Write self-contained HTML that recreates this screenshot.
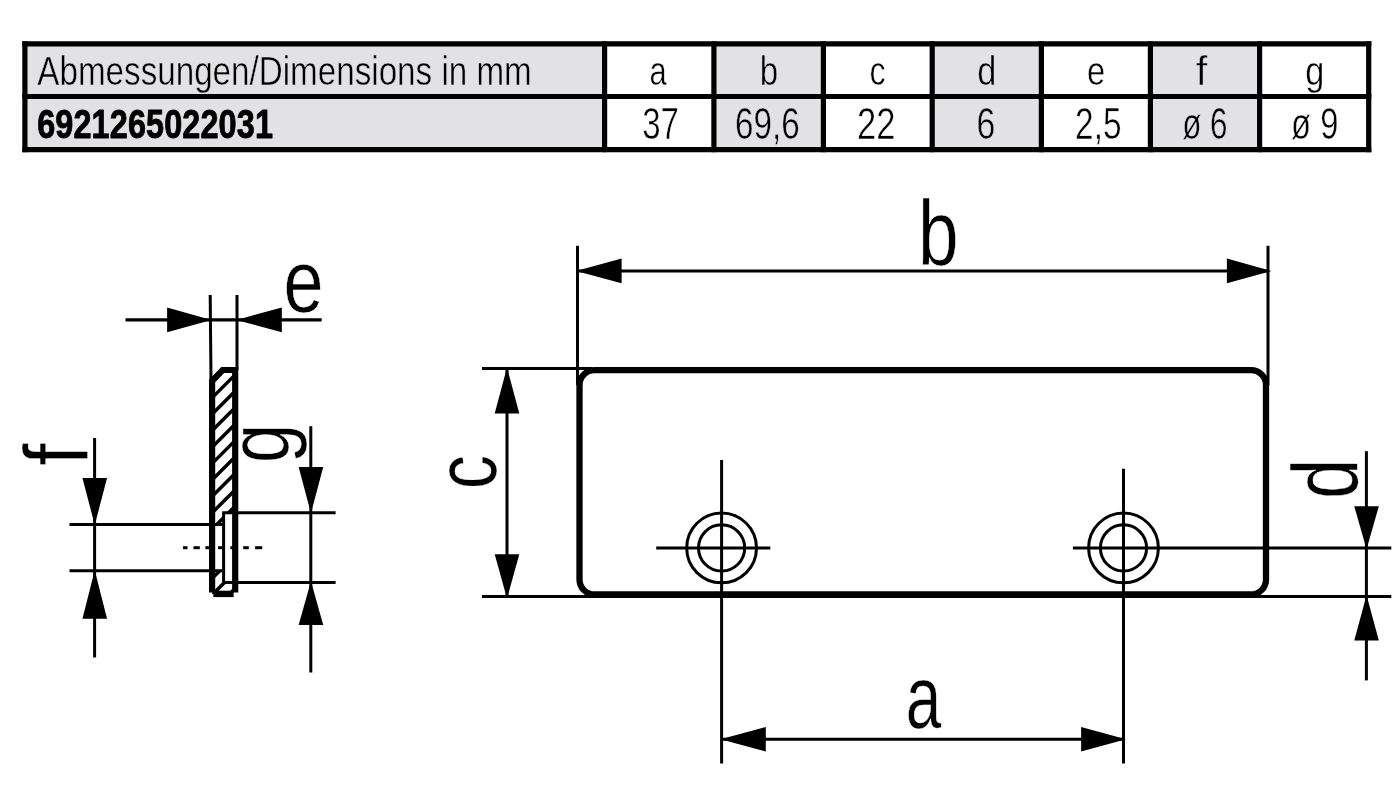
<!DOCTYPE html>
<html lang="de">
<head>
<meta charset="utf-8">
<title>Abmessungen/Dimensions in mm – 6921265022031</title>
<style>
html,body{margin:0;padding:0;background:#fff;}
body{width:1400px;height:803px;overflow:hidden;}
svg{display:block;will-change:transform;}
.t,.tb{font-family:"Liberation Sans",sans-serif;font-size:100px;fill:#000;font-kerning:none;}
.tb{font-weight:bold;}
.s line,.s path,.s rect,.s circle{stroke:#000;}
.a{fill:#000;stroke:none;}
</style>
</head>
<body>
<svg width="1400" height="803" viewBox="0 0 1400 803">
<rect width="1400" height="803" fill="#fff"/>
<g id="table">
<rect x="24.9" y="43.9" width="579.7" height="105.7" fill="#e2e2e4"/>
<rect x="713.9" y="43.9" width="109.5" height="105.7" fill="#e2e2e4"/>
<rect x="932.2" y="43.9" width="109.2" height="105.7" fill="#e2e2e4"/>
<rect x="1150.4" y="43.9" width="109.2" height="105.7" fill="#e2e2e4"/>
<g class="s">
<line x1="22.3" y1="43.9" x2="1371.3" y2="43.9" stroke-width="5.2"/>
<line x1="22.3" y1="96.5" x2="1371.3" y2="96.5" stroke-width="5.2"/>
<line x1="22.3" y1="149.6" x2="1371.3" y2="149.6" stroke-width="5.2"/>
<line x1="24.9" y1="41.3" x2="24.9" y2="152.2" stroke-width="5.2"/>
<line x1="604.6" y1="41.3" x2="604.6" y2="152.2" stroke-width="5.2"/>
<line x1="713.9" y1="41.3" x2="713.9" y2="152.2" stroke-width="5.2"/>
<line x1="823.4" y1="41.3" x2="823.4" y2="152.2" stroke-width="5.2"/>
<line x1="932.2" y1="41.3" x2="932.2" y2="152.2" stroke-width="5.2"/>
<line x1="1041.4" y1="41.3" x2="1041.4" y2="152.2" stroke-width="5.2"/>
<line x1="1150.4" y1="41.3" x2="1150.4" y2="152.2" stroke-width="5.2"/>
<line x1="1259.6" y1="41.3" x2="1259.6" y2="152.2" stroke-width="5.2"/>
<line x1="1368.7" y1="41.3" x2="1368.7" y2="152.2" stroke-width="5.2"/>
</g>
<text class="t" transform="translate(37.336 85) scale(0.332 0.406)" stroke="#e2e2e4" stroke-width="1.2" stroke-linejoin="round">Abmessungen/Dimensions in mm</text>
<text class="tb" transform="translate(37.171 137.95) scale(0.324 0.408)" stroke="#000" stroke-width="2.2" stroke-linejoin="round" letter-spacing="0.4">6921265022031</text>
<text class="t" transform="translate(649.502 85.3) scale(0.309 0.406)" stroke="#fff" stroke-width="1.2" stroke-linejoin="round">a</text>
<text class="t" transform="translate(759.666 85.3) scale(0.331 0.406)" stroke="#e2e2e4" stroke-width="1.2" stroke-linejoin="round">b</text>
<text class="t" transform="translate(869.439 85.3) scale(0.322 0.406)" stroke="#fff" stroke-width="1.2" stroke-linejoin="round">c</text>
<text class="t" transform="translate(977.355 85.3) scale(0.343 0.406)" stroke="#e2e2e4" stroke-width="1.2" stroke-linejoin="round">d</text>
<text class="t" transform="translate(1086.91 85.3) scale(0.328 0.406)" stroke="#fff" stroke-width="1.2" stroke-linejoin="round">e</text>
<text class="t" transform="translate(1195.664 85.3) scale(0.415 0.406)" stroke="#e2e2e4" stroke-width="1.2" stroke-linejoin="round">f</text>
<text class="t" transform="translate(1305.355 85.3) scale(0.343 0.406)" stroke="#fff" stroke-width="1.2" stroke-linejoin="round">g</text>
<text class="t" transform="translate(642.145 138.9) scale(0.33 0.436)" stroke="#fff" stroke-width="1.2" stroke-linejoin="round">37</text>
<text class="t" transform="translate(735.117 138.9) scale(0.332 0.436)" stroke="#e2e2e4" stroke-width="1.2" stroke-linejoin="round">69,6</text>
<text class="t" transform="translate(857.052 138.9) scale(0.346 0.436)" stroke="#fff" stroke-width="1.2" stroke-linejoin="round">22</text>
<text class="t" transform="translate(976.48 138.9) scale(0.338 0.436)" stroke="#e2e2e4" stroke-width="1.2" stroke-linejoin="round">6</text>
<text class="t" transform="translate(1075.118 138.9) scale(0.334 0.436)" stroke="#fff" stroke-width="1.2" stroke-linejoin="round">2,5</text>
<text class="t" transform="translate(1182.136 138.9) scale(0.314 0.436)" stroke="#e2e2e4" stroke-width="1.2" stroke-linejoin="round">ø 6</text>
<text class="t" transform="translate(1291.101 138.9) scale(0.327 0.436)" stroke="#fff" stroke-width="1.2" stroke-linejoin="round">ø 9</text>
</g>
<g id="labels">
<text class="t" transform="translate(283.531 312.301) scale(0.719 0.886)" stroke="#fff" stroke-width="0.6" stroke-linejoin="round">e</text>
<text class="t" transform="translate(918.074 265.278) scale(0.73 0.92)" stroke="#fff" stroke-width="0.6" stroke-linejoin="round">b</text>
<text class="t" transform="translate(905.697 728.498) scale(0.638 0.89)" stroke="#fff" stroke-width="0.6" stroke-linejoin="round">a</text>
<text class="t" transform="translate(496.304 488.892) rotate(-90) scale(0.68 0.88)" stroke="#fff" stroke-width="0.6" stroke-linejoin="round">c</text>
<text class="t" transform="translate(1356.677 498.814) rotate(-90) scale(0.714 0.921)" stroke="#fff" stroke-width="0.6" stroke-linejoin="round">d</text>
<text class="t" transform="translate(88.274 466.004) rotate(-90) scale(0.818 0.914)" stroke="#fff" stroke-width="0.6" stroke-linejoin="round">f</text>
<text class="t" transform="translate(289.123 463.064) rotate(-90) scale(0.703 0.864)" stroke="#fff" stroke-width="0.6" stroke-linejoin="round">g</text>
</g>
<g id="section" class="s">
<line x1="125.5" y1="319.9" x2="321.7" y2="319.9" stroke-width="3.1"/>
<line x1="210.2" y1="295" x2="211" y2="380" stroke-width="3"/>
<line x1="237" y1="295" x2="237" y2="370" stroke-width="3"/>
<polygon class="a" points="211.5,319.9 167.1,307.6 167.1,332.2"/>
<polygon class="a" points="236.3,319.9 281.8,307.6 281.8,332.2"/>
<clipPath id="hc"><path d="M212 381 L223 370 L235 370 L235 512.7 L223.6 512.7 L223.6 524.5 L212 524.5 Z M212 570.8 L223.6 570.8 L223.6 582.4 L235 582.4 L235 594 L212 594 Z"/></clipPath>
<g clip-path="url(#hc)">
<line x1="205.1" y1="404.8" x2="245.1" y2="364.8" stroke-width="3.5"/>
<line x1="205.1" y1="421.23" x2="245.1" y2="381.23" stroke-width="3.5"/>
<line x1="205.1" y1="437.66" x2="245.1" y2="397.66" stroke-width="3.5"/>
<line x1="205.1" y1="454.09" x2="245.1" y2="414.09" stroke-width="3.5"/>
<line x1="205.1" y1="470.52" x2="245.1" y2="430.52" stroke-width="3.5"/>
<line x1="205.1" y1="486.95" x2="245.1" y2="446.95" stroke-width="3.5"/>
<line x1="205.1" y1="503.38" x2="245.1" y2="463.38" stroke-width="3.5"/>
<line x1="205.1" y1="519.81" x2="245.1" y2="479.81" stroke-width="3.5"/>
<line x1="205.1" y1="536.24" x2="245.1" y2="496.24" stroke-width="3.5"/>
<line x1="205.1" y1="552.67" x2="245.1" y2="512.67" stroke-width="3.5"/>
<line x1="205.1" y1="569.1" x2="245.1" y2="529.1" stroke-width="3.5"/>
<line x1="205.1" y1="585.53" x2="245.1" y2="545.53" stroke-width="3.5"/>
<line x1="205.1" y1="601.96" x2="245.1" y2="561.96" stroke-width="3.5"/>
<line x1="205.1" y1="618.39" x2="245.1" y2="578.39" stroke-width="3.5"/>
</g>
<path d="M212.1 592.5 L212.1 381 L222.6 370 L235.2 370 L235.2 592.5" fill="none" stroke-width="6.2" stroke-linejoin="miter"/>
<path d="M213.3 593.9 L233.6 593.9" fill="none" stroke-width="6.4"/>
<line x1="69.5" y1="524.5" x2="224.5" y2="524.5" stroke-width="3"/>
<line x1="69.5" y1="570.8" x2="224.5" y2="570.8" stroke-width="3"/>
<line x1="222.2" y1="512.8" x2="335.6" y2="512.8" stroke-width="3"/>
<line x1="222.2" y1="582.4" x2="335.6" y2="582.4" stroke-width="3"/>
<line x1="223.6" y1="512.7" x2="223.6" y2="582.4" stroke-width="3"/>
<line x1="183" y1="547.7" x2="187.5" y2="547.7" stroke-width="3"/>
<line x1="193.5" y1="547.7" x2="199.8" y2="547.7" stroke-width="3"/>
<line x1="205.4" y1="547.7" x2="210" y2="547.7" stroke-width="3"/>
<line x1="218.1" y1="547.7" x2="222.2" y2="547.7" stroke-width="3"/>
<line x1="230.4" y1="547.7" x2="233" y2="547.7" stroke-width="3"/>
<line x1="243.2" y1="547.7" x2="248.8" y2="547.7" stroke-width="3"/>
<line x1="255.1" y1="547.7" x2="262.2" y2="547.7" stroke-width="3"/>
<line x1="94.6" y1="438" x2="94.6" y2="657.5" stroke-width="3"/>
<polygon class="a" points="94.75,525 82.45,478.1 107.05,478.1"/>
<polygon class="a" points="94.75,570.3 82.45,618.8 107.05,618.8"/>
<line x1="310.8" y1="426.2" x2="310.8" y2="672.5" stroke-width="3"/>
<polygon class="a" points="310.95,513.3 298.65,466.9 323.25,466.9"/>
<polygon class="a" points="310.95,581.2 298.65,625.1 323.25,625.1"/>
</g>
<g id="front" class="s">
<rect x="579.5" y="370.1" width="686.5" height="224.4" rx="15" ry="15" fill="none" stroke-width="6.3"/>
<line x1="577.5" y1="245.8" x2="577.5" y2="385" stroke-width="3"/>
<line x1="1268" y1="245.8" x2="1268" y2="385" stroke-width="3"/>
<line x1="577.5" y1="270.9" x2="1269" y2="270.9" stroke-width="3"/>
<polygon class="a" points="576,270.9 621.6,258.6 621.6,283.2"/>
<polygon class="a" points="1271.5,270.9 1226.9,258.6 1226.9,283.2"/>
<line x1="482" y1="368.5" x2="592" y2="368.5" stroke-width="3"/>
<line x1="482" y1="596.4" x2="1391.3" y2="596.4" stroke-width="3"/>
<line x1="507" y1="368" x2="507" y2="597" stroke-width="3"/>
<polygon class="a" points="507,367.6 494.7,413.5 519.3,413.5"/>
<polygon class="a" points="507,598.6 494.7,554.2 519.3,554.2"/>
<circle cx="721.6" cy="547.9" r="34.9" fill="none" stroke-width="3"/>
<circle cx="721.6" cy="547.9" r="23.1" fill="none" stroke-width="3"/>
<line x1="721.6" y1="460" x2="721.6" y2="763.4" stroke-width="3"/>
<line x1="656.2" y1="547.9" x2="770.3" y2="547.9" stroke-width="3"/>
<circle cx="1123.5" cy="547.9" r="34.9" fill="none" stroke-width="3"/>
<circle cx="1123.5" cy="547.9" r="23.1" fill="none" stroke-width="3"/>
<line x1="1123.5" y1="468.7" x2="1123.5" y2="763.4" stroke-width="3"/>
<line x1="1072.9" y1="547.9" x2="1391.3" y2="547.9" stroke-width="3"/>
<line x1="721.6" y1="739.2" x2="1123.6" y2="739.2" stroke-width="3"/>
<polygon class="a" points="720.4,739.2 765.8,726.9 765.8,751.5"/>
<polygon class="a" points="1126,739.2 1081.1,726.9 1081.1,751.5"/>
<line x1="1366.4" y1="451.2" x2="1366.4" y2="680.4" stroke-width="3"/>
<polygon class="a" points="1366.55,549.3 1354.25,506.2 1378.85,506.2"/>
<polygon class="a" points="1366.55,595.3 1354.25,640.6 1378.85,640.6"/>
</g>
</svg>
</body>
</html>
